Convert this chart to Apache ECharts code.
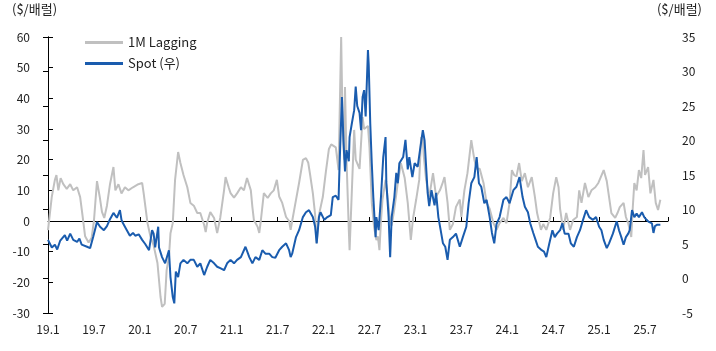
<!DOCTYPE html>
<html>
<head>
<meta charset="utf-8">
<script src="https://cdn.jsdelivr.net/npm/echarts@6/dist/echarts.min.js"></script>
<style>
  html, body { margin: 0; padding: 0; background: #fff; }
  #chart { width: 716px; height: 351px; }
</style>
</head>
<body>
<div id="chart"></div>
<script>
// months since 2019.1
var lagMonth = [0.0,0.5,0.9,1.1,1.35,1.65,2.0,2.45,2.9,3.3,3.8,4.2,4.5,4.85,5.3,5.7,6.0,6.4,6.75,7.05,7.35,7.7,8.1,8.55,8.8,9.2,9.6,10.05,10.5,11.1,11.8,
  12.3,12.5,13.0,13.4,13.8,14.3,14.7,14.9,15.25,15.5,15.8,16.0,16.3,16.6,17.0,17.3,17.7,18.2,18.6,19.05,19.5,19.9,20.4,20.6,20.8,21.2,21.7,22.1,22.5,23.0,23.2,23.6,
  23.85,24.3,24.7,25.2,25.6,26.0,26.25,26.5,26.7,26.9,27.4,27.6,27.8,28.2,28.7,29.1,29.5,29.9,30.2,30.6,31.1,31.5,31.7,31.9,32.4,32.8,33.3,33.7,34.0,34.25,34.6,34.9,35.1,35.4,35.9,
  36.3,36.7,37.0,37.2,37.6,37.96,38.3,38.5,38.7,38.8,39.0,39.3,39.4,39.7,40.0,40.2,40.7,41.1,41.3,41.5,41.8,42.0,42.3,42.6,42.9,43.1,43.3,43.5,43.7,44.1,44.4,44.7,44.9,45.25,45.7,46.1,46.6,47.0,47.4,47.7,48.1,48.5,
  48.75,48.97,49.1,49.4,49.8,50.3,50.7,51.2,51.5,51.8,52.2,52.5,52.9,53.3,53.8,54.0,54.4,54.8,55.3,55.7,56.0,56.4,56.9,57.3,57.7,58.2,58.6,59.0,59.5,59.9,60.3,60.6,60.9,
  61.2,61.55,61.9,62.3,62.7,63.2,63.6,63.9,64.4,64.7,65.1,65.6,66.0,66.4,66.7,66.9,67.3,67.7,68.2,68.6,69.1,69.4,69.7,70.15,70.6,71.0,71.5,71.9,72.3,72.6,73.0,73.3,73.6,
  74.1,74.4,74.7,75.2,75.5,75.8,76.2,76.4,76.6,76.9,77.2,77.5,77.8,78.0,78.4,78.7,79.1,79.4,79.7,80.0];
var lagValue = [-3,8,13.4,15,10,14,12,10.5,12,10,11,7.8,2,-5,-7,-5.5,0,13,8,3,1,5,12,17.6,10,12,9,11,10,11,12,
  12.4,9,-0.7,-5.2,-8,-13.7,-24.7,-28,-27,-16,-11.7,-4,-0.7,13.4,22.5,18.9,15,11,5.9,5,2.6,2.6,-1.3,-3.6,-0.5,2.9,1,-3.9,1,10,14.3,11,
  9.1,7.6,9,11,10,14,14.5,10,4.6,0.3,-2,-3.9,0,9.1,7.5,9,10,13.4,8,5.9,1.3,0,-2.9,0,6.9,12.4,19.9,20.5,19,15,9.1,2,-7.2,2,7.8,
  16,23.5,25,25,24,16.6,60,30,20,43.7,20,-2.9,-9.5,10,29.7,20,17,33.9,30,30,31,24.1,5.9,-2,-6.2,-5,-9.5,0,7,13.4,7,0,-1.5,4,12.4,18.9,14,5.9,-6.2,1,7,13.4,
  27.4,26.4,21,13.4,7.8,15.6,8,10,12,14.3,6,-2.9,-1,4.6,7,1.3,10,15.6,26.4,20,17,17,12.4,5.9,4,-0.7,-2.9,-0.7,1,-0.7,5.9,16.6,15,
  14.5,18.9,13,15.6,11,14.3,8,2.6,-2.9,-1,-2.9,1,9.1,14.3,11,4,-2.9,2.6,-2.9,0.3,1.3,10,5.9,12.4,7.8,10,11,12.4,14.8,16.6,13,7.8,2.6,
  1,2.6,4.5,5.9,1.3,-0.7,-5.2,4.5,12.4,10,16.6,14,23.1,15,17.6,9,13.4,5.9,3.6,6.9];

var spotMonth = [0.0,0.5,0.9,1.2,1.6,2.2,2.5,2.9,3.3,3.8,4.1,4.4,5.1,5.5,5.9,6.4,6.8,7.3,7.7,8.1,8.55,9.0,9.4,9.6,9.8,10.3,10.7,11.1,11.4,11.85,
  12.3,12.7,13.2,13.6,13.8,14.0,14.4,14.5,14.9,15.3,15.8,16.0,16.3,16.5,16.7,17.0,17.3,17.7,18.2,18.6,19.05,19.5,19.9,20.4,20.8,21.2,21.7,22.1,22.5,23.0,23.4,
  23.85,24.3,24.7,25.2,25.8,26.3,26.7,27.1,27.6,28.0,28.4,28.9,29.3,29.7,30.2,30.6,31.1,31.5,31.7,31.9,32.4,32.8,33.3,33.7,34.1,34.6,34.9,35.1,35.4,35.6,36.1,36.5,
  36.95,37.2,37.6,37.96,38.1,38.4,38.6,38.8,39.0,39.3,39.4,39.7,40.0,40.2,40.4,40.7,40.9,41.1,41.3,41.5,41.8,41.9,42.1,42.3,42.5,42.8,42.9,43.2,43.5,43.8,44.1,44.2,44.5,44.7,44.9,
  45.25,45.5,45.7,45.9,46.4,46.7,47.0,47.2,47.6,47.9,48.3,48.6,48.97,49.2,49.4,49.6,49.8,50.1,50.5,50.7,51.0,51.3,51.6,51.9,52.2,52.5,52.9,53.3,53.8,54.2,54.65,54.95,
  55.3,55.7,56.0,56.3,56.6,57.0,57.3,57.7,58.0,58.3,58.6,59.0,59.5,59.9,60.3,60.8,61.2,61.6,62.0,62.3,62.7,63.0,63.4,63.7,64.0,64.5,64.8,65.1,65.5,65.9,66.2,66.5,66.9,
  67.2,67.5,68.0,68.3,68.7,69.1,69.5,69.9,70.3,70.7,71.2,71.6,72.0,72.3,72.6,73.0,73.3,73.8,74.3,74.6,74.9,75.2,75.5,75.8,76.0,76.3,76.6,76.9,77.2,77.6,77.9,78.2,78.5,78.9,
  79.1,79.3,79.6,80.0];
var spotValue = [5.6,4.5,4.9,4.2,5.5,6.3,5.5,6.5,5.6,5.3,5.8,4.9,4.6,4.4,6,8.2,7.5,7.0,7.6,8.6,9.5,8.8,9.9,8.5,8,7.0,6.2,6.6,6.2,6.4,
  5.6,5.0,4.1,7,6.5,4.5,7.5,4.5,3.1,2.2,4.1,0.2,-2.7,-3.6,1,0.2,2.2,2.7,2.2,2.7,2.7,1.7,2.2,0.5,1.7,2.7,2.2,1.7,1.5,1.2,2.2,
  2.7,2.2,2.7,3.1,4.6,3.1,2.2,3.1,2.7,4.1,3.6,3.6,3.1,3,4.1,4.6,5.1,4.1,3.1,3.6,6,7,8.9,9.6,9.9,8.9,7.5,5.1,8.9,9.6,8.5,8.9,
  9.2,11.8,12,11.4,16.7,26.3,20,15.5,18.6,17,20.5,22.5,24.4,27.8,25,24,21.5,26.3,27.3,23.5,33.1,31,22.5,16.7,11.8,6.0,8.9,7.0,11.8,17.6,20.5,14,8.9,3.1,8.9,
  11.8,15.3,13.8,16.7,17.6,20.1,15.8,17.6,14.7,16.7,16.2,18.6,21.5,20,16.2,12.4,10.5,12.8,10.6,12.4,8.9,7,5.1,4.6,2.7,5.6,6,6.5,4.6,6,7.5,10.9,
  13.8,14.7,17.6,13.8,13.3,10.9,11.4,8.9,6.6,5.1,7.9,8.9,11.4,11.8,10.9,12.8,13.3,14.7,11.8,10.4,9.6,8.0,6.6,5.6,4.6,4.1,3.9,3.1,5.1,7,6,6.5,7,
  8.0,6.5,6.5,5.1,4.6,6,7,8.5,9.9,8.9,8.5,8.9,7.5,7,5.6,4.4,5.1,6.5,8.3,7,6,4.9,6,6.5,7,9.9,8.9,9.4,8.9,9.6,8.9,8.5,8.2,8.0,
  6.6,7.6,7.8,7.8];

var lagData = lagMonth.map(function (m, i) { return [m, lagValue[i]]; });
var spotData = spotMonth.map(function (m, i) { return [m, spotValue[i]]; });

var FONT = '"Noto Sans CJK KR", "Noto Sans", sans-serif';

var chart = echarts.init(document.getElementById('chart'));
chart.setOption({
    animation: false,
    grid: { left: 48, right: 48, top: 37, bottom: 38 },
    legend: {
        orient: 'vertical',
        left: 80,
        top: 31,
        icon: 'rect',
        itemWidth: 38,
        itemHeight: 3,
        itemGap: 8,
        textStyle: { fontFamily: FONT, fontSize: 13, color: '#222' },
        data: ['1M Lagging', 'Spot (우)']
    },
    graphic: [
        { type: 'text', left: 12, top: 3, style: { text: '($/배럴)', fontFamily: FONT, fontSize: 13, fill: '#222' } },
        { type: 'text', right: 14, top: 3, style: { text: '($/배럴)', fontFamily: FONT, fontSize: 13, fill: '#222' } }
    ],
    xAxis: [{
        type: 'value',
        min: 0,
        max: 81,
        interval: 6,
        position: 'bottom',
        axisLine: { show: false, onZero: false },
        axisTick: { show: false },
        splitLine: { show: false },
        axisLabel: {
            margin: 10,
            fontFamily: FONT,
            fontSize: 12,
            color: '#222',
            formatter: function (v) {
                return (19 + Math.floor(v / 12)) + '.' + (v % 12 + 1);
            }
        }
    }, {
        // 0 기준선
        type: 'value',
        min: 0,
        max: 81,
        interval: 6,
        position: 'bottom',
        axisLine: { onZero: true, onZeroAxisIndex: 0, lineStyle: { color: '#000', width: 1 } },
        axisTick: { inside: true, length: 4, lineStyle: { color: '#000' } },
        axisLabel: { show: false },
        splitLine: { show: false }
    }],
    yAxis: [{
        type: 'value',
        min: -30,
        max: 60,
        interval: 10,
        axisLine: { show: true, lineStyle: { color: '#000' } },
        axisTick: { show: true, inside: true, length: 5, lineStyle: { color: '#000' } },
        splitLine: { show: false },
        axisLabel: { margin: 18, fontFamily: FONT, fontSize: 12, color: '#222' }
    }, {
        type: 'value',
        min: -5,
        max: 35,
        interval: 5,
        position: 'right',
        axisLine: { show: true, lineStyle: { color: '#000' } },
        axisTick: { show: true, inside: true, length: 5, lineStyle: { color: '#000' } },
        splitLine: { show: false },
        axisLabel: { margin: 14, fontFamily: FONT, fontSize: 12, color: '#222' }
    }],
    series: [{
        name: '1M Lagging',
        type: 'line',
        xAxisIndex: 0,
        yAxisIndex: 0,
        data: lagData,
        showSymbol: false,
        lineStyle: { color: '#c0c0c0', width: 2 },
        itemStyle: { color: '#c0c0c0' }
    }, {
        name: 'Spot (우)',
        type: 'line',
        xAxisIndex: 0,
        yAxisIndex: 1,
        data: spotData,
        showSymbol: false,
        lineStyle: { color: '#1a5cae', width: 2 },
        itemStyle: { color: '#1a5cae' }
    }]
});
</script>
</body>
</html>
